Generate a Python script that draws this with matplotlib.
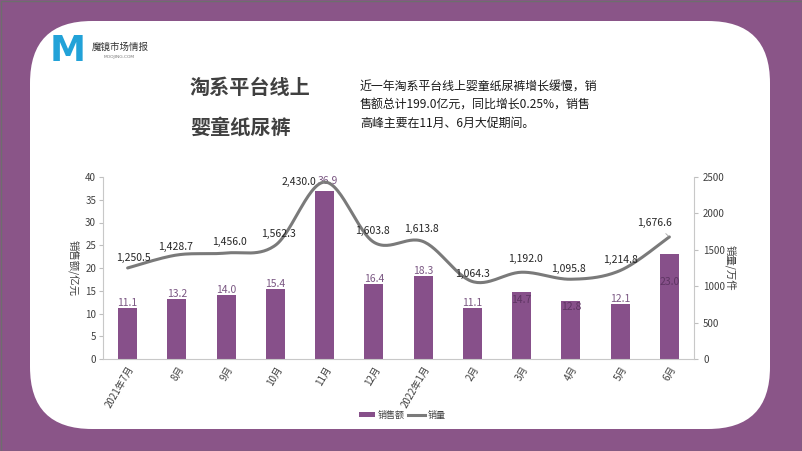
import numpy as np
import matplotlib.pyplot as plt
from matplotlib.patches import FancyBboxPatch, Rectangle
from matplotlib.lines import Line2D

plt.rcParams['font.family'] = ['Noto Sans CJK SC', 'DejaVu Sans']

# data
months = ['2021年7月', '8月', '9月', '10月', '11月', '12月', '2022年1月',
          '2月', '3月', '4月', '5月', '6月']
sales = [11.1, 13.2, 14.0, 15.4, 36.9, 16.4, 18.3, 11.1, 14.7, 12.8, 12.1, 23.0]
volume = [1250.5, 1428.7, 1456.0, 1562.3, 2430.0, 1603.8, 1613.8, 1064.3,
          1192.0, 1095.8, 1214.8, 1676.6]

purple = '#8a5588'
bar_col = '#87508a'
line_col = '#7a7a7a'
txt = '#404040'

fig = plt.figure(figsize=(8.02, 4.51), dpi=100, facecolor=purple)

# background with rounded white card, in pixel coords
bg = fig.add_axes([0, 0, 1, 1])
bg.set_xlim(0, 802)
bg.set_ylim(451, 0)
bg.axis('off')
bg.add_patch(FancyBboxPatch((30, 21), 740, 408,
                            boxstyle='round,pad=0,rounding_size=62',
                            fc='white', ec='none'))
bg.add_patch(Rectangle((0.5, 0.5), 801, 450, fc='none', ec='#6e6e6e', lw=1))

# logo
bg.text(68, 51, 'M', fontsize=26, fontweight='bold', color='#22a2d8',
        ha='center', va='center', family='DejaVu Sans')
bg.text(92, 47, '魔镜市场情报', fontsize=6.8, color='#333333', va='center')
bg.text(104, 57, 'MOOJING.COM', fontsize=3.2, color='#777777', va='center',
        family='DejaVu Sans')

# headline
bg.text(190, 87, '淘系平台线上', fontsize=14.5, fontweight='bold', color=txt,
        va='center')
bg.text(190, 127, '婴童纸尿裤', fontsize=14.5, fontweight='bold', color=txt,
        va='center')
para = ['近一年淘系平台线上婴童纸尿裤增长缓慢，销',
        '售额总计199.0亿元，同比增长0.25%，销售',
        '高峰主要在11月、6月大促期间。']
for i, s in enumerate(para):
    bg.text(360, 87 + i * 18, s, fontsize=8.6, color='#1a1a1a', va='center')

# main chart
ax = fig.add_axes([103 / 802, 1 - 359 / 451, (694 - 103) / 802, (359 - 177) / 451])
ax.set_facecolor('none')
x = np.arange(len(months))
ax.bar(x, sales, width=0.39, color=bar_col, zorder=2)
ax.set_xlim(-0.5, len(months) - 0.5)
ax.set_ylim(0, 40)
ax.set_yticks(range(0, 41, 5))
ax.set_xticks(x)
ax.set_xticklabels(months, rotation=60, ha='right', va='top',
                   rotation_mode='anchor', fontsize=7, color=txt)
ax.tick_params(axis='x', length=0, pad=4)
ax.tick_params(axis='y', labelsize=7, colors=txt, length=3, color='#bfbfbf', pad=2)
for s in ['top', 'right']:
    ax.spines[s].set_visible(False)
for s in ['left', 'bottom']:
    ax.spines[s].set_color('#c8c8c8')
ax.set_ylabel('销售额/亿元', fontsize=7.5, color=txt, rotation=270, va='center')
ax.yaxis.set_label_coords(-0.05, 0.5)

# bar labels, (dx, dy) offsets in pixels (negative dy = inside the bar)
bar_off = [(0, 5), (0, 5), (0, 5), (0, 5), (3, 10), (0, 5), (0, 5), (0, 5),
           (0, -8), (0, -6), (0, 5), (0, -28)]
for xi, v, (dx, dy) in zip(x, sales, bar_off):
    c = '#7b5883' if dy > 0 else '#5e3563'
    ax.annotate(f'{v:.1f}', (xi, v), xytext=(dx * 0.72, dy * 0.72),
                textcoords='offset points', ha='center', va='center',
                fontsize=7.5, color=c, zorder=4)

# secondary axis with smoothed line
ax2 = ax.twinx()
ax2.set_ylim(0, 2500)
ax2.set_yticks(range(0, 2501, 500))
ax2.tick_params(axis='y', labelsize=7, colors=txt, length=3, color='#bfbfbf')
for s in ['top', 'left', 'bottom']:
    ax2.spines[s].set_visible(False)
ax2.spines['right'].set_color('#c8c8c8')
ax2.set_ylabel('销量/万件', fontsize=7.5, color=txt, rotation=270, va='center')
ax2.yaxis.set_label_coords(1.061, 0.5)

# Catmull-Rom smoothing like the Excel smooth line
pts = np.column_stack([x, volume]).astype(float)
ext = np.vstack([pts[0], pts, pts[-1]])
xs, ys = [], []
for i in range(1, len(ext) - 2):
    p0, p1, p2, p3 = ext[i - 1], ext[i], ext[i + 1], ext[i + 2]
    for t in np.linspace(0, 1, 30, endpoint=False):
        t2, t3 = t * t, t * t * t
        p = 0.5 * ((2 * p1) + (-p0 + p2) * t + (2 * p0 - 5 * p1 + 4 * p2 - p3) * t2
                   + (-p0 + 3 * p1 - 3 * p2 + p3) * t3)
        xs.append(p[0])
        ys.append(p[1])
xs.append(pts[-1][0])
ys.append(pts[-1][1])
ax2.plot(xs, ys, color=line_col, lw=2.2, solid_capstyle='round', zorder=3)

# line labels, offsets in pixels (dx, dy)
line_off = [(6, 10), (-1, 8), (3, 11), (3, 11), (-26, 0), (-1, 11),
            (-2, 13), (0, 8), (4, 13), (-2, 10), (0, 11), (-15, 14)]
for xi, v, (dx, dy) in zip(x, volume, line_off):
    ap = None
    if xi in (4, 11):
        ap = dict(arrowstyle='-', color='#a6a6a6', lw=0.6, shrinkA=3, shrinkB=1)
    ax2.annotate(f'{v:,.1f}', (xi, v), xytext=(dx * 0.72, dy * 0.72),
                 textcoords='offset points', ha='center', va='center',
                 fontsize=7.5, color='#262626', arrowprops=ap, zorder=5)

# legend
handles = [Rectangle((0, 0), 1, 1, fc=bar_col),
           Line2D([], [], color=line_col, lw=2.2)]
fig.legend(handles, ['销售额', '销量'], loc='center', bbox_to_anchor=(402 / 802, 1 - 415 / 451),
           ncol=2, frameon=False, fontsize=6.5, handlelength=1.8, handleheight=0.6,
           columnspacing=0.4, handletextpad=0.3, labelcolor=txt)

fig.savefig('out.png', dpi=100, facecolor=purple)
